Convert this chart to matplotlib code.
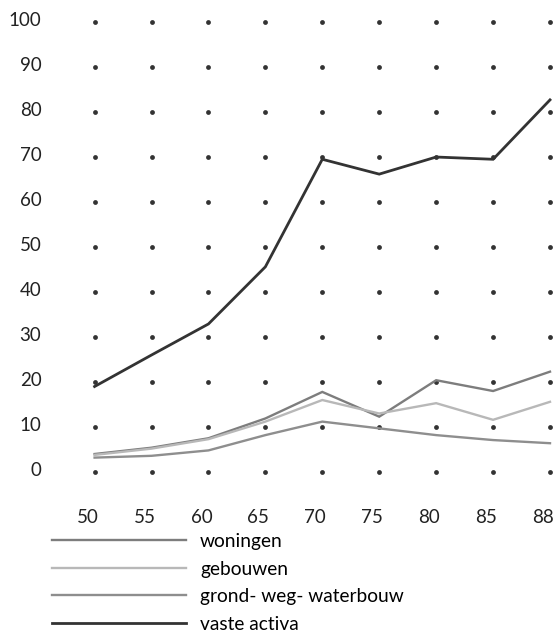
import numpy as np
import matplotlib
matplotlib.use("Agg")
import matplotlib.pyplot as plt
import matplotlib.transforms as mtransforms

plt.rcParams['font.family'] = ['Lato', 'DejaVu Sans']

# data
years = ["50", "55", "60", "65", "70", "75", "80", "85", "88"]
y_ticks = [0, 10, 20, 30, 40, 50, 60, 70, 80, 90, 100]

woningen = [4.0, 5.4, 7.5, 11.9, 17.8, 12.3, 20.4, 18.0, 22.3]
gebouwen = [3.8, 5.2, 7.3, 11.2, 16.0, 13.0, 15.3, 11.6, 15.6]
grond_weg_waterbouw = [3.2, 3.6, 4.8, 8.2, 11.2, 9.7, 8.2, 7.1, 6.4]
vaste_activa = [19.0, 26.0, 32.9, 45.6, 69.5, 66.2, 70.0, 69.5, 82.7]

labels = ["woningen", "gebouwen", "grond- weg- waterbouw", "vaste activa"]
colors = ["#7d7d7d", "#b8b8b8", "#8e8e8e", "#333333"]

fig = plt.figure(figsize=(5.6, 6.39), dpi=100)
ax = fig.add_axes([0.1384, 0.2402, 0.859, 0.7394])

x = np.arange(len(years))

# dotted grid
gx, gy = np.meshgrid(x, y_ticks)
ax.scatter(gx.ravel(), gy.ravel(), s=12, color="#333333", zorder=1, linewidths=0)

handles = []
for series, lab, col in zip([woningen, gebouwen, grond_weg_waterbouw, vaste_activa], labels, colors):
    lw = 2.0 if lab == "vaste activa" else 1.7
    h, = ax.plot(x, series, color=col, linewidth=lw, label=lab, zorder=2,
                 solid_joinstyle="miter")
    handles.append(h)

ax.set_xlim(-0.3, 8.15)
ax.set_ylim(-3, 102)
ax.set_xticks(x)
ax.set_xticklabels(years, fontsize=13.5, color="#222222")
ax.set_yticks(y_ticks)
ax.set_yticklabels([str(v) for v in y_ticks], fontsize=13.5, color="#222222")
ax.tick_params(axis="both", length=0)
ax.tick_params(axis="y", pad=26)
ax.tick_params(axis="x", pad=17)
for s in ax.spines.values():
    s.set_visible(False)

# shift x tick labels slightly left, y labels slightly up
dx = mtransforms.ScaledTranslation(-7 / 100, 0, fig.dpi_scale_trans)
for lbl in ax.get_xticklabels():
    lbl.set_transform(lbl.get_transform() + dx)
dy = mtransforms.ScaledTranslation(0, 3 / 100, fig.dpi_scale_trans)
for lbl in ax.get_yticklabels():
    lbl.set_transform(lbl.get_transform() + dy)

fig.legend(handles=handles, labels=labels, loc="upper left",
           bbox_to_anchor=(52 / 560, 1 - 533 / 639), frameon=False,
           fontsize=13.8, handlelength=7.0, handletextpad=0.72,
           labelspacing=0.55, borderpad=0, borderaxespad=0)

fig.savefig("out.png", dpi=100, facecolor="white")
